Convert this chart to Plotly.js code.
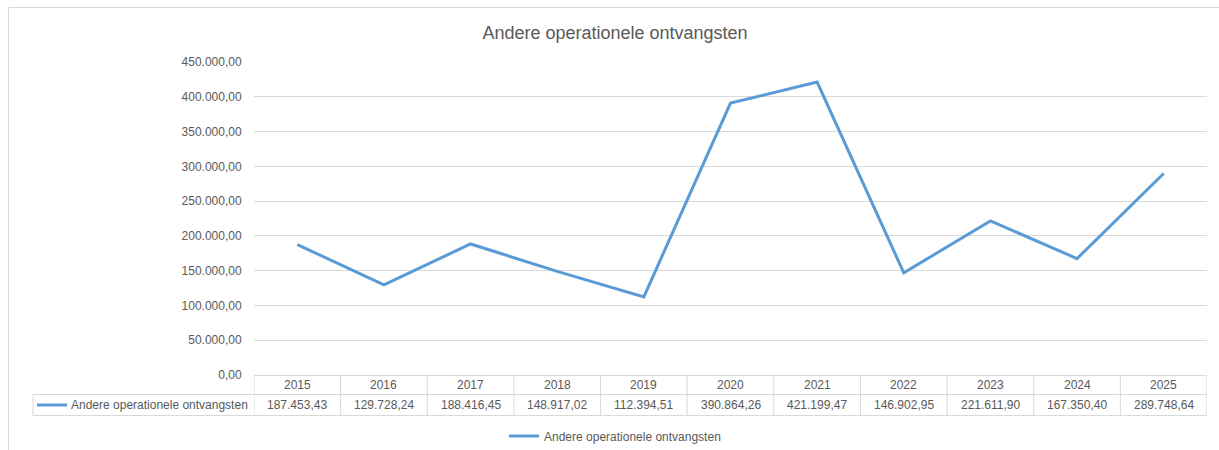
<!DOCTYPE html>
<html>
<head>
<meta charset="utf-8">
<script src="https://cdn.plot.ly/plotly-3.0.1.min.js"></script>
<style>html,body{margin:0;padding:0;background:#fff;}#chart{width:1219px;height:450px;}</style>
</head>
<body>
<div id="chart"></div>
<script>
const years = ['2015','2016','2017','2018','2019','2020','2021','2022','2023','2024','2025'];
const values = [187453.43, 129728.24, 188416.45, 148917.02, 112394.51, 390864.26, 421199.47, 146902.95, 221611.90, 167350.40, 289748.64];
const seriesName = 'Andere operationele ontvangsten';
const chartTitle = 'Andere operationele ontvangsten';

const W = 1219, H = 450;
const L = 254, R = 1207, T = 62, B = 375;
const FONT = 'Liberation Sans, Arial, sans-serif';
const TXT = '#595959';
const GRID = '#D9D9D9';

function fmt(v){
  const s = v.toFixed(2);
  let [i, d] = s.split('.');
  i = i.replace(/\B(?=(\d{3})+(?!\d))/g, '.');
  return i + ',' + d;
}
const px = x => (x - L) / (R - L);
const py = y => (B - y) / (B - T);

const shapes = [];
const annotations = [];
// outer chart border
shapes.push({type:'line', xref:'paper', yref:'paper', x0:px(8.5), x1:px(1219), y0:py(7.5), y1:py(7.5), line:{color:GRID, width:1}});
shapes.push({type:'line', xref:'paper', yref:'paper', x0:px(8.5), x1:px(8.5), y0:py(7.5), y1:py(450), line:{color:GRID, width:1}});
// table horizontal lines
shapes.push({type:'line', xref:'paper', yref:'paper', x0:0, x1:1, y0:py(375.5), y1:py(375.5), line:{color:GRID, width:1}});
shapes.push({type:'line', xref:'paper', yref:'paper', x0:px(33), x1:1, y0:py(394.5), y1:py(394.5), line:{color:GRID, width:1}});
shapes.push({type:'line', xref:'paper', yref:'paper', x0:px(33), x1:1, y0:py(415.5), y1:py(415.5), line:{color:GRID, width:1}});
// left cell vertical
shapes.push({type:'line', xref:'paper', yref:'paper', x0:px(33), x1:px(33), y0:py(394.5), y1:py(415.5), line:{color:GRID, width:1}});
// column verticals
for (let i = 0; i <= years.length; i++) {
  shapes.push({type:'line', xref:'x', yref:'paper', x0:i-0.5, x1:i-0.5, y0:py(375.5), y1:py(415.5), line:{color:GRID, width:1}});
}
// legend key in table
shapes.push({type:'line', xref:'paper', yref:'paper', x0:px(37), x1:px(67), y0:py(405), y1:py(405), line:{color:'#5B9BD5', width:3}});
annotations.push({xref:'paper', yref:'paper', x:px(250), y:py(405), xanchor:'right', yanchor:'middle', showarrow:false, text:seriesName, font:{family:FONT, size:12, color:TXT}});

years.forEach((yr, i) => {
  annotations.push({xref:'x', yref:'paper', x:i, y:py(385), xanchor:'center', yanchor:'middle', showarrow:false, text:yr, font:{family:FONT, size:12, color:TXT}});
  annotations.push({xref:'x', yref:'paper', x:i, y:py(405), xanchor:'center', yanchor:'middle', showarrow:false, text:fmt(values[i]), font:{family:FONT, size:12, color:TXT}});
});

const trace = {
  x: years, y: values, type:'scatter', mode:'lines', name: seriesName,
  line:{color:'#5B9BD5', width:3}
};

const layout = {
  width:W, height:H,
  margin:{l:L, r:W-R, t:T, b:H-B, pad:0, autoexpand:false},
  paper_bgcolor:'#fff', plot_bgcolor:'#fff',
  separators:',.',
  title:{text:chartTitle, x:px(615), xref:'paper', xanchor:'center', y:1-33/H, yanchor:'middle', font:{family:FONT, size:18, color:TXT}},
  xaxis:{type:'category', range:[-0.5, years.length-0.5], showticklabels:false, showgrid:false, zeroline:false, showline:false, ticks:''},
  yaxis:{range:[0,450000], dtick:50000, tickformat:',.2f', showgrid:true, gridcolor:GRID, gridwidth:1, zeroline:false, showline:false,
         ticks:'outside', ticklen:9, tickcolor:'rgba(0,0,0,0)', tickfont:{family:FONT, size:12, color:TXT}, automargin:false},
  showlegend:true,
  legend:{orientation:'h', xref:'container', yref:'container', x:615/W, xanchor:'center', y:1-436/H, yanchor:'middle', font:{family:FONT, size:12, color:TXT}, bgcolor:'rgba(0,0,0,0)'},
  shapes:shapes, annotations:annotations
};

Plotly.newPlot('chart', [trace], layout, {displayModeBar:false, staticPlot:true});
</script>
</body>
</html>
